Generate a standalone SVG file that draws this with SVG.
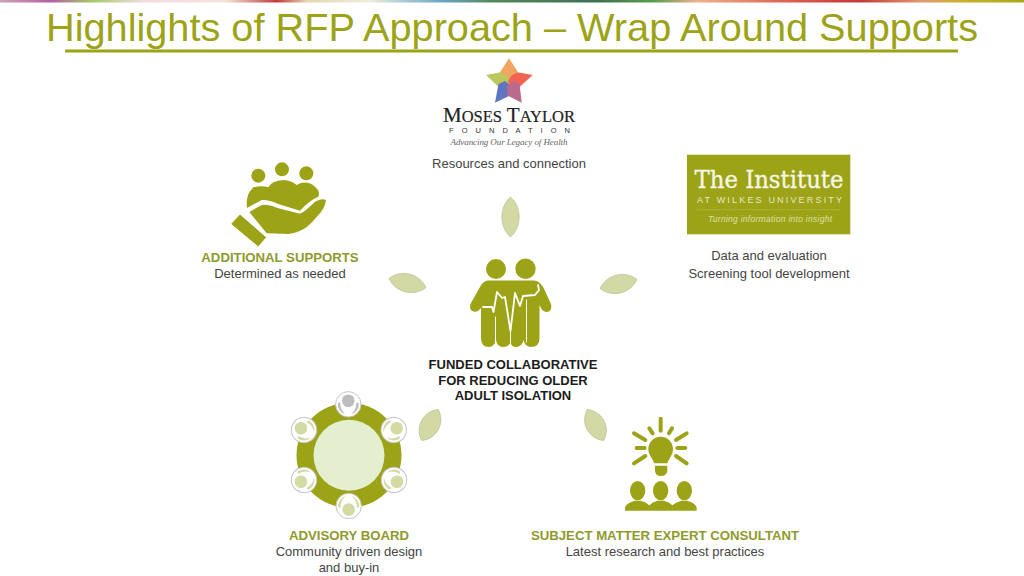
<svg xmlns="http://www.w3.org/2000/svg" width="1024" height="576" viewBox="0 0 1024 576">
<style>
text{font-family:"Liberation Sans",Arial,sans-serif}
.t{font-size:13px;fill:#444;text-anchor:middle}
.h{font-size:13.2px;font-weight:bold;fill:#8f9a2c;text-anchor:middle}
.k{font-size:13px;font-weight:bold;fill:#1c1c1c;text-anchor:middle}
.o{fill:#9ca317}
.w{fill:none;stroke:#fff;stroke-linecap:round;stroke-linejoin:round}
.leaf{fill:#d2d9a4;stroke:#b9c090;stroke-width:.7}
.seat{fill:#fff;stroke:#c4c4c4;stroke-width:1}
.p{fill:#d3daa3}
.pg{fill:#bdbdbd}
</style>
<defs>
<linearGradient id="band" x1="0" x2="1" y1="0" y2="0">
<stop offset="0" stop-color="#c9a0b8"/><stop offset=".05" stop-color="#b65fa0"/><stop offset=".09" stop-color="#a8c96a"/><stop offset=".14" stop-color="#f3dbe0"/><stop offset=".22" stop-color="#f5e4d8"/><stop offset=".27" stop-color="#c23b3b"/><stop offset=".3" stop-color="#e6d5b0"/><stop offset=".36" stop-color="#eeeedd"/><stop offset=".43" stop-color="#6aa6c8"/><stop offset=".48" stop-color="#55885c"/><stop offset=".58" stop-color="#3f6f55"/><stop offset=".64" stop-color="#5aa04a"/><stop offset=".68" stop-color="#f0b090"/><stop offset=".78" stop-color="#d8584a"/><stop offset=".84" stop-color="#c23b3b"/><stop offset=".9" stop-color="#e39a70"/><stop offset=".94" stop-color="#c9b030"/><stop offset="1" stop-color="#a4a91c"/>
</linearGradient>
<path id="lf" class="leaf" d="M-20 0C-10-11.500 10-11.500 20 0C10 11.500-10 11.500-20 0Z"/>
<g id="seatp"><circle class="seat" r="12.700"/><circle class="p" cy="3.500" r="6.300"/><path class="p" d="M-10.500 1A10.500 10.500 0 0 1-3-10Q-8.500-5-8 2ZM10.500 1A10.500 10.500 0 0 0 3-10Q8.500-5 8 2Z"/></g>
</defs>
<rect width="1024" height="2.500" fill="url(#band)"/>
<g id="title">
<text x="512" y="41" fill="#9ca317" text-anchor="middle" style="font-size:38.500px" textLength="932" lengthAdjust="spacingAndGlyphs">Highlights of RFP Approach – Wrap Around Supports</text>
<rect x="65" y="49.500" width="893" height="3" fill="#9ca317"/>
</g>
<g id="connectors">
<use href="#lf" transform="translate(510.500 217) rotate(90)"/>
<use href="#lf" transform="translate(618.500 284) rotate(-14) scale(.95 1.050)"/>
<use href="#lf" transform="translate(407.500 283) rotate(14) scale(.95 1.050)"/>
<use href="#lf" transform="translate(430 425) rotate(-62) scale(.88 1.100)"/>
<use href="#lf" transform="translate(595.500 425) rotate(62) scale(.88 1.100)"/>
</g>
<g id="node-center">
<circle class="o" cx="496" cy="269" r="10"/><circle class="o" cx="525.500" cy="268.700" r="10.200"/>
<path class="o" d="M488 280.500H534Q541 281 545 291L551 304Q552.500 311 547 312Q543 312 541 308L539.500 305V338Q539.500 347 531 347Q525 347 523.500 340Q522 347 516 347Q511 347 510.500 342Q509 347 503 347Q497 347 496 340Q494 347 489 347Q481 347 481 338V308L478 311Q474 313 471 310Q469 307 471 303L480 287Q483 281 488 280.500Z"/>
<polyline class="w" stroke-width="1.800" points="483,307 492,307 493.500,312 497,292 502,298 505,297 510.500,331 515,293 520,306 523,296 535,295 539,290 538,285"/>
<path class="w" stroke-width="1" d="M495.500 317V342M510.500 331V345M526.500 300V342"/>
<text class="k" x="513" y="368.500">FUNDED COLLABORATIVE</text>
<text class="k" x="513" y="384.500">FOR REDUCING OLDER</text>
<text class="k" x="513" y="400">ADULT ISOLATION</text>
</g>
<g id="node-moses">
<g opacity=".88">
<path fill="#ee9a4c" d="M509 58.300L518.500 73L516 84L509 89L502 84L499.500 73Z"/>
<path fill="#b3c048" d="M486 75L499.500 72.500Q508 74 510 82L504 90L498.500 87Z"/>
<path fill="#ef4f3a" d="M532.700 75L518.500 72.500Q510 74 508 82L514 90L519.500 87Z"/>
<path fill="#4a63b8" d="M495 102.700L498.500 84L505 81L511 86L510 95.500Z"/>
<path fill="#b2567f" d="M521.700 102.700L519.500 84L513 81L507 86L507.500 95.500Z"/>
</g>
<text x="509" y="122" text-anchor="middle" fill="#222" stroke="#222" stroke-width=".2" style="font-family:'Liberation Serif',serif;font-size:21px" textLength="132" lengthAdjust="spacingAndGlyphs">M<tspan font-size="16.500">OSES</tspan> T<tspan font-size="16.500">AYLOR</tspan></text>
<text x="509.500" y="133" text-anchor="middle" fill="#333" font-size="7.500" textLength="121">F O U N D A T I O N</text>
<text x="509" y="144.500" text-anchor="middle" fill="#666" font-size="9" font-style="italic" style="font-family:'Liberation Serif',serif" textLength="117">Advancing Our Legacy of Health</text>
<text class="t" x="509" y="168">Resources and connection</text>
</g>
<g id="node-institute">
<rect x="687" y="154.700" width="163.300" height="79.600" fill="#9ca317"/>
<text x="769" y="188" text-anchor="middle" fill="#f6f6e4" stroke="#f6f6e4" stroke-width=".35" font-size="25" style="font-family:'DejaVu Serif',serif" textLength="149" lengthAdjust="spacingAndGlyphs">The Institute</text>
<text x="769.500" y="203" text-anchor="middle" fill="#e6e8c4" font-size="9" textLength="145">AT WILKES UNIVERSITY</text>
<rect x="697" y="209.500" width="144" height=".6" fill="#b4ba4c"/>
<text x="770" y="222" text-anchor="middle" fill="#dde0a8" font-size="8.500" font-style="italic" textLength="124">Turning information into insight</text>
<text class="t" x="769" y="260">Data and evaluation</text>
<text class="t" x="769" y="278">Screening tool development</text>
</g>
<g id="node-additional">
<g transform="translate(190 150) scale(.3333)">
<circle class="o" cx="205" cy="77" r="21"/><circle class="o" cx="276" cy="58" r="21"/><circle class="o" cx="349" cy="70" r="21"/>
<path class="o" d="M171 174Q166 135 190 112Q215 105 235 112Q245 92 280 90Q305 92 320 105Q350 88 375 110Q392 125 385 140Q360 150 330 182L265 162Q235 148 215 150Z"/>
<path class="o" d="M178 186L215 165Q240 162 265 175L330 191Q345 185 375 155Q395 143 408 150Q405 175 385 195Q360 225 345 235Q320 250 295 252L230 250Z"/>
<path class="o" stroke="#fff" stroke-width="3" d="M150 192L230 262L205 291L122 222Z"/>
</g>
<text class="h" x="280" y="262">ADDITIONAL SUPPORTS</text>
<text class="t" x="280" y="278">Determined as needed</text>
</g>
<g id="node-advisory">
<path class="o" d="M349 402.500L395 429L395.500 482L349 508.500L303 482L302.500 429Z" stroke="#9ca317" stroke-width="3" stroke-linejoin="round"/>
<circle class="o" cx="349" cy="455.300" r="52.500"/>
<circle cx="349" cy="455.300" r="35.500" fill="#e3efcf"/>
<g transform="translate(348.300 404.300)"><circle class="seat" r="12.700"/><circle class="pg" cy="-3.500" r="6.300"/><path class="pg" d="M-10.500-1A10.500 10.500 0 0 0-3 10Q-8.500 5-8-2ZM10.500-1A10.500 10.500 0 0 1 3 10Q8.500 5 8-2Z"/></g>
<use href="#seatp" transform="translate(393.700 430) rotate(-120)"/>
<use href="#seatp" transform="translate(394 480) rotate(-60)"/>
<use href="#seatp" transform="translate(348.700 506)"/>
<use href="#seatp" transform="translate(304 480) rotate(60)"/>
<use href="#seatp" transform="translate(304 430) rotate(120)"/>
<text class="h" x="349" y="540">ADVISORY BOARD</text>
<text class="t" x="349" y="556">Community driven design</text>
<text class="t" x="349" y="572">and buy-in</text>
</g>
<g id="node-expert">
<g transform="translate(570 400) scale(.3333)">
<path class="o" d="M272 110C295 110 309 128 309 147C309 165 297 175 292 190H253C248 175 235 165 235 147C235 128 250 110 272 110Z"/>
<path class="o" d="M255 197H292V212Q290 228 273 228Q256 228 255 212Z"/>
<g stroke="#9ca317" stroke-width="12" stroke-linecap="round" fill="none">
<path d="M272 56V92M238 85L248 100M192 100L226 120M200 144H224M192 190L226 168M306 85L297 100M350 100L318 120M322 144H346M350 190L318 168"/>
</g>
<ellipse class="o" cx="203" cy="272" rx="23" ry="29"/><ellipse class="o" cx="272" cy="272" rx="23" ry="29"/><ellipse class="o" cx="343" cy="272" rx="23" ry="29"/>
<path class="o" d="M165 332V322Q170 308 195 302H212Q228 306 238 316Q248 306 262 302H282Q298 306 307 316Q318 306 335 302H352Q375 308 380 322V332Z"/>
</g>
<text class="h" x="665" y="540">SUBJECT MATTER EXPERT CONSULTANT</text>
<text class="t" x="665" y="556">Latest research and best practices</text>
</g>
</svg>
